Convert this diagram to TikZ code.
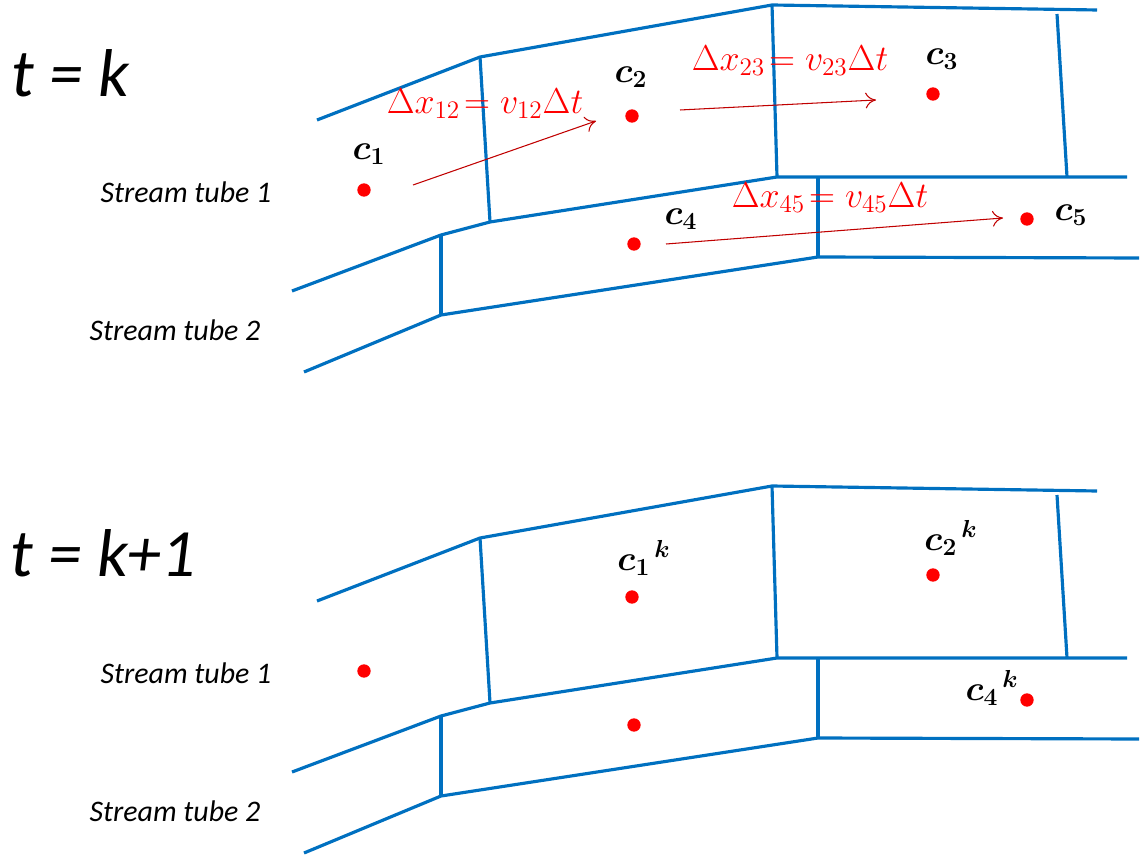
\documentclass[tikz,border=0pt]{standalone}
\usepackage{fix-cm}
\usepackage{amsmath,bm}
\usepackage[no-math]{fontspec}
\setmainfont{Carlito}
\usetikzlibrary{arrows.meta}
\definecolor{tubeblue}{HTML}{0070C0}
\definecolor{arrred}{HTML}{C00000}
\begin{document}
\begin{tikzpicture}[x=0.02cm,y=-0.02cm,
  tube/.style={draw=tubeblue,line width=1.8pt,line join=round},
  dot/.style={circle,fill=red,inner sep=0pt,minimum size=7.6pt},
  clab/.style={font=\fontsize{20}{22}\selectfont,inner sep=0pt},
  dlab/.style={font=\fontsize{20.5}{22}\selectfont,text=red,inner sep=0pt},
  flow/.style={draw=arrred,line width=0.6pt,-{To[length=6pt,width=9pt]}},
  title/.style={font=\fontsize{38.5}{42}\selectfont\itshape,inner sep=0pt},
  tubelab/.style={font=\fontsize{17}{19}\selectfont\itshape,inner sep=0pt},
  tubes/.pic={
    \coordinate (-a1) at (317,120); \coordinate (-a2) at (480,57);
    \coordinate (-a3) at (772,5);   \coordinate (-a4) at (1097,10);
    \coordinate (-m0) at (292,291); \coordinate (-m1) at (441,235);
    \coordinate (-m2) at (490,222); \coordinate (-m3) at (777,177);
    \coordinate (-m4) at (1127,177);
    \coordinate (-r1) at (1057,14); \coordinate (-r2) at (1067,177);
    \coordinate (-v1) at (818,177); \coordinate (-v2) at (818,257);
    \coordinate (-b0) at (304,372); \coordinate (-b1) at (441,315);
    \coordinate (-b3) at (1139,258);
    \draw[tube] (-a1) -- (-a2) -- (-a3) -- (-a4);
    \draw[tube] (-a2) -- (-m2);
    \draw[tube] (-a3) -- (-m3);
    \draw[tube] (-r1) -- (-r2);
    \draw[tube] (-m0) -- (-m1) -- (-m2) -- (-m3) -- (-m4);
    \draw[tube] (-m1) -- (-b1);
    \draw[tube] (-v1) -- (-v2);
    \draw[tube] (-b0) -- (-b1) -- (-v2) -- (-b3);
    \node[dot] (-d1) at (364,190) {};
    \node[dot] (-d2) at (632,116) {};
    \node[dot] (-d3) at (933,94) {};
    \node[dot] (-d4) at (634,244) {};
    \node[dot] (-d5) at (1027,219) {};
  }]
\useasboundingbox (0,0) rectangle (1141,857);

% ---------- t = k ----------
\pic (p) at (0,0) {tubes};
\node[title] (tk) at (70,73) {t = k};
\node[tubelab] (s1) at (186,192) {Stream tube 1};
\node[tubelab] (s2) at (175,330) {Stream tube 2};
\node[clab] (l1) at (369,154) {$\bm{c}_{\bm 1}$};
\node[clab] (l2) at (631,77) {$\bm{c}_{\bm 2}$};
\node[clab] (l3) at (942,59) {$\bm{c}_{\bm 3}$};
\node[clab] (l4) at (681,219) {$\bm{c}_{\bm 4}$};
\node[clab] (l5) at (1071,215) {$\bm{c}_{\bm 5}$};
\coordinate (e1s) at (413,185); \coordinate (e1e) at (596,121);
\coordinate (e2s) at (680,110); \coordinate (e2e) at (876,100);
\coordinate (e3s) at (666,244); \coordinate (e3e) at (1003,218);
\draw[flow] (e1s) -- (e1e);
\draw[flow] (e2s) -- (e2e);
\draw[flow] (e3s) -- (e3e);
\node[dlab] (x12) at (485,104) {$\Delta x_{12}\!= v_{12}\Delta t$};
\node[dlab] (x23) at (790,61) {$\Delta x_{23}\!= v_{23}\Delta t$};
\node[dlab] (x45) at (830,198) {$\Delta x_{45}\!= v_{45}\Delta t$};

% ---------- t = k+1 ----------
\pic (q) at (0,481) {tubes};
\node[title] (tk1) at (103,553) {t = k+1};
\node[tubelab] (s3) at (186,673) {Stream tube 1};
\node[tubelab] (s4) at (175,811) {Stream tube 2};
\node[clab] (k1) at (644,558) {$\bm{c}_{\bm 1}{}^{\,\bm k}$};
\node[clab] (k2) at (951,538) {$\bm{c}_{\bm 2}{}^{\,\bm k}$};
\node[clab] (k4) at (992,688) {$\bm{c}_{\bm 4}{}^{\,\bm k}$};
\end{tikzpicture}
\end{document}
